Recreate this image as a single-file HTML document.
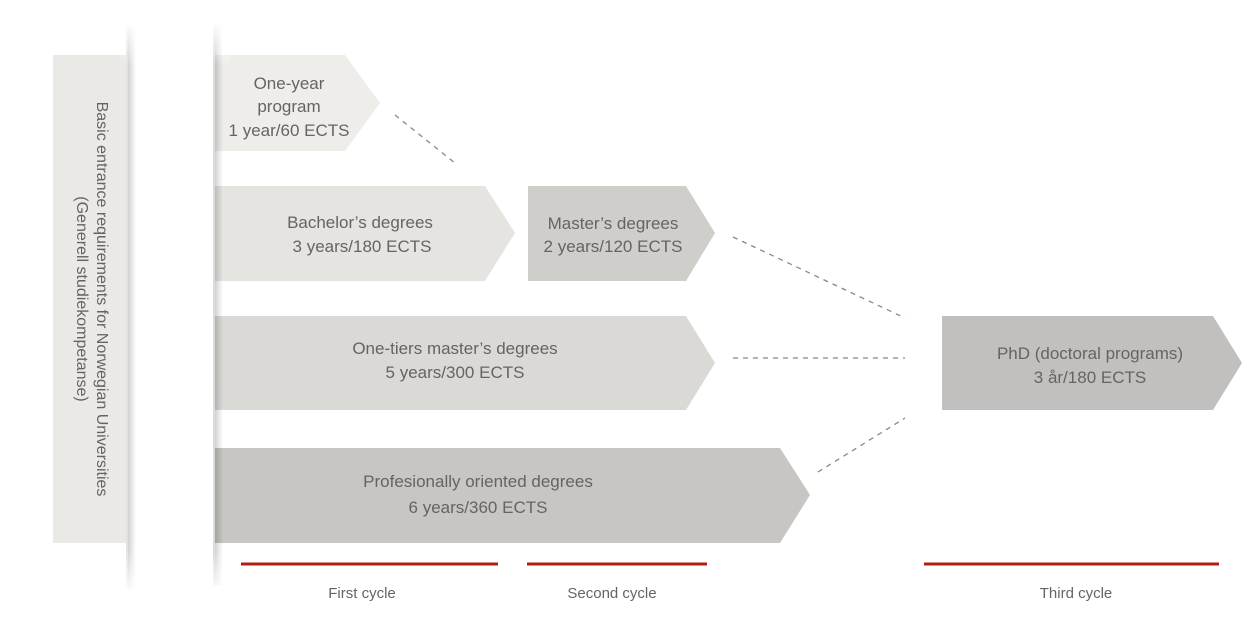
<!DOCTYPE html>
<html><head><meta charset="utf-8"><style>
html,body{margin:0;padding:0;background:#fff;}
svg text{font-family:"Liberation Sans",sans-serif;fill:#646464;}
</style></head><body>
<svg width="1260" height="628" viewBox="0 0 1260 628" xmlns="http://www.w3.org/2000/svg">
<defs>
<linearGradient id="sh" x1="0" x2="1" y1="0" y2="0">
<stop offset="0" stop-color="#000" stop-opacity="0.18"/><stop offset="1" stop-color="#000" stop-opacity="0"/>
</linearGradient>
<linearGradient id="vf" x1="0" x2="0" y1="0" y2="1">
<stop offset="0" stop-color="#fff" stop-opacity="1"/><stop offset="0.08" stop-color="#fff" stop-opacity="0"/><stop offset="0.92" stop-color="#fff" stop-opacity="0"/><stop offset="1" stop-color="#fff" stop-opacity="1"/>
</linearGradient>
</defs>
<rect x="53" y="55" width="75" height="488" fill="#ebe9e6"/>
<text transform="translate(97,299) rotate(90)" text-anchor="middle" font-size="16">Basic entrance requirements for Norwegian Universities</text>
<text transform="translate(77,299) rotate(90)" text-anchor="middle" font-size="16">(Generell studiekompetanse)</text>

<polygon points="215,55 345,55 380,103 345,151 215,151" fill="#efedea"/>
<polygon points="215,186 485,186 515,233 485,281 215,281" fill="#e6e4e1"/>
<polygon points="528,186 686,186 715,233 686,281 528,281" fill="#d0cecb"/>
<polygon points="215,316 686,316 715,363 686,410 215,410" fill="#dbd9d6"/>
<polygon points="215,448 780,448 810,495 780,543 215,543" fill="#c8c6c3"/>
<polygon points="942,316 1213,316 1242,363 1213,410 942,410" fill="#c2c0be"/>

<rect x="128" y="25" width="8" height="565" fill="url(#sh)"/>
<rect x="126" y="25" width="2" height="565" fill="#e2e2e2"/>
<rect x="215" y="25" width="8" height="560" fill="url(#sh)"/>
<rect x="213" y="25" width="2" height="560" fill="#dcdcdc"/>
<rect x="120" y="20" width="110" height="575" fill="url(#vf)"/>

<g stroke="#888" stroke-width="1.3" stroke-dasharray="5,5" fill="none">
<line x1="395" y1="115" x2="455" y2="163"/>
<line x1="733" y1="237" x2="905" y2="318"/>
<line x1="733" y1="358" x2="905" y2="358"/>
<line x1="818" y1="472" x2="905" y2="418"/>
</g>

<g font-size="17" text-anchor="middle">
<text x="289" y="89">One-year</text>
<text x="289" y="112">program</text>
<text x="289" y="136">1 year/60 ECTS</text>
<text x="360" y="228">Bachelor’s degrees</text>
<text x="362" y="252">3 years/180 ECTS</text>
<text x="613" y="229">Master’s degrees</text>
<text x="613" y="252">2 years/120 ECTS</text>
<text x="455" y="354">One-tiers master’s degrees</text>
<text x="455" y="378">5 years/300 ECTS</text>
<text x="478" y="487">Profesionally oriented degrees</text>
<text x="478" y="513">6 years/360 ECTS</text>
<text x="1090" y="359">PhD  (doctoral programs)</text>
<text x="1090" y="383">3 år/180 ECTS</text>
</g>

<g stroke="#b01e14" stroke-width="3">
<line x1="241" y1="564" x2="498" y2="564"/>
<line x1="527" y1="564" x2="707" y2="564"/>
<line x1="924" y1="564" x2="1219" y2="564"/>
</g>
<g font-size="15" text-anchor="middle">
<text x="362" y="598">First cycle</text>
<text x="612" y="598">Second cycle</text>
<text x="1076" y="598">Third cycle</text>
</g>
</svg>
</body></html>
